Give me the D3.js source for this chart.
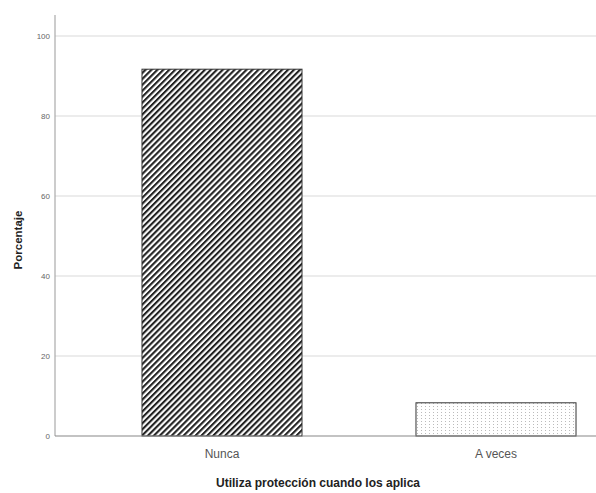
<!DOCTYPE html>
<html><head><meta charset="utf-8">
<script src="https://cdn.jsdelivr.net/npm/d3@7"></script>
<style>body{margin:0;background:#fff}svg{display:block}</style>
</head><body>
<script>
const categories = ["Nunca", "A veces"];
const values = [91.7, 8.3];
const yTicks = [0, 20, 40, 60, 80, 100];
const xTitle = "Utiliza protección cuando los aplica";
const yTitle = "Porcentaje";

(function(){
const W = 596, H = 493;
const svg = d3.select("body").append("svg").attr("width", W).attr("height", H);
const defs = svg.append("defs");
const hatch = defs.append("pattern").attr("id", "hatch").attr("patternUnits", "userSpaceOnUse")
  .attr("width", 4.2).attr("height", 4.2).attr("patternTransform", "rotate(45)");
hatch.append("rect").attr("width", 4.2).attr("height", 4.2).attr("fill", "#fff");
hatch.append("rect").attr("width", 2.1).attr("height", 4.2).attr("fill", "#222");
const dots = defs.append("pattern").attr("id", "dots").attr("patternUnits", "userSpaceOnUse")
  .attr("width", 4).attr("height", 3);
dots.append("rect").attr("width", 4).attr("height", 3).attr("fill", "#fff");
dots.append("rect").attr("x", 1).attr("y", 1).attr("width", 1).attr("height", 1).attr("fill", "#bbb");

const y = d3.scaleLinear().domain([0, 100]).range([436, 36]);
const x = d3.scaleBand().domain(categories).range([85, 633]).paddingInner(0.416).paddingOuter(0.208);
const axisX0 = 55, axisTop = 15;

svg.append("g").selectAll("line").data(yTicks.filter(d => d > 0)).join("line")
  .attr("x1", axisX0).attr("x2", W).attr("y1", d => y(d)).attr("y2", d => y(d))
  .attr("stroke", "#d9d9d9").attr("stroke-width", 1.2);

svg.append("g").selectAll("rect").data(categories).join("rect")
  .attr("x", d => x(d)).attr("width", x.bandwidth())
  .attr("y", (d, i) => y(values[i])).attr("height", (d, i) => y(0) - y(values[i]))
  .attr("fill", (d, i) => i === 0 ? "url(#hatch)" : "url(#dots)")
  .attr("stroke", "#333").attr("stroke-width", 1);

const ya = svg.append("g").attr("transform", `translate(${axisX0},0)`)
  .call(d3.axisLeft(y).tickValues(yTicks).tickSize(0).tickPadding(5));
ya.select(".domain").remove();
ya.selectAll("text").attr("fill", "#666").attr("font-size", 8).attr("font-family", "Liberation Sans, Arial, sans-serif");
svg.append("line").attr("x1", axisX0).attr("x2", axisX0).attr("y1", axisTop).attr("y2", y(0))
  .attr("stroke", "#aaa").attr("stroke-width", 1.2);

const xa = svg.append("g").attr("transform", `translate(0,${y(0)})`)
  .call(d3.axisBottom(x).tickSize(0).tickPadding(13));
xa.select(".domain").remove();
xa.selectAll("text").attr("fill", "#555").attr("font-size", 12).attr("font-family", "Liberation Sans Narrow, Liberation Sans, Arial, sans-serif");
svg.append("line").attr("x1", axisX0).attr("x2", W).attr("y1", y(0)).attr("y2", y(0))
  .attr("stroke", "#888").attr("stroke-width", 1.2);

svg.append("text").attr("x", 318).attr("y", 487).attr("text-anchor", "middle")
  .attr("font-family", "Liberation Sans Narrow, Liberation Sans, Arial, sans-serif").attr("font-weight", "bold")
  .attr("font-size", 12).attr("fill", "#222").text(xTitle);
svg.append("text").attr("transform", "translate(22,240) rotate(-90)").attr("text-anchor", "middle")
  .attr("font-family", "Liberation Sans, Arial, sans-serif").attr("font-weight", "bold")
  .attr("font-size", 11.5).attr("fill", "#222").text(yTitle);
})();
</script>
</body></html>
